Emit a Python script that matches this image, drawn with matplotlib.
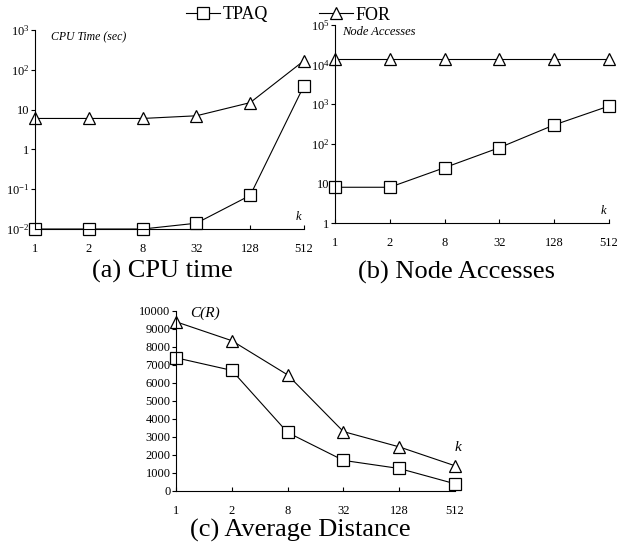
import matplotlib.pyplot as plt
from matplotlib.lines import Line2D

plt.rcParams['font.family'] = ['Liberation Serif', 'DejaVu Serif']
plt.rcParams['mathtext.fontset'] = 'stix'

k_labels = ['1', '2', '8', '32', '128', '512']

cpu_tpaq = [0.01, 0.01, 0.01, 0.014, 0.07, 40]
cpu_for = [6, 6, 6, 7, 15, 170]

node_tpaq = [8, 8, 25, 80, 300, 900]
node_for = [14000, 14000, 14000, 14000, 14000, 14000]

dist_tpaq = [7400, 6700, 3250, 1700, 1250, 400]
dist_for = [9400, 8350, 6450, 3300, 2450, 1400]

cpu_ticks = [1e-2, 1e-1, 1, 10, 1e2, 1e3]
cpu_ticklabels = [r'$\mathregular{10^{-2}}$', r'$\mathregular{10^{-1}}$', '1', '10',
                  r'$\mathregular{10^{2}}$', r'$\mathregular{10^{3}}$']
node_ticks = [1, 10, 1e2, 1e3, 1e4, 1e5]
node_ticklabels = ['1', '10', r'$\mathregular{10^{2}}$', r'$\mathregular{10^{3}}$',
                   r'$\mathregular{10^{4}}$', r'$\mathregular{10^{5}}$']
dist_ticks = list(range(0, 10001, 1000))

fig = plt.figure(figsize=(6.29, 5.5), dpi=100)
ax_a = fig.add_axes([0.0556, 0.5836, 0.4277, 0.3618])
ax_b = fig.add_axes([0.5326, 0.5945, 0.4356, 0.36])
ax_c = fig.add_axes([0.2798, 0.1073, 0.4436, 0.3273])

x = range(len(k_labels))
style = dict(color='black', lw=0.8, markersize=8, markerfacecolor='white',
             markeredgecolor='black', markeredgewidth=0.9, clip_on=False)

for ax, tpaq, fr in [(ax_a, cpu_tpaq, cpu_for), (ax_b, node_tpaq, node_for),
                     (ax_c, dist_tpaq, dist_for)]:
    ax.plot(x, tpaq, marker='s', **style)
    ax.plot(x, fr, marker='^', **style)
    ax.set_xlim(0, len(k_labels) - 1)
    ax.set_xticks(list(x))
    ax.set_xticklabels(k_labels)
    for s in ['top', 'right']:
        ax.spines[s].set_visible(False)
    for s in ['left', 'bottom']:
        ax.spines[s].set_linewidth(0.8)
    ax.tick_params(axis='x', direction='in', length=3, pad=10, labelsize=9, width=0.8)
    ax.tick_params(axis='y', direction='out', length=3, pad=1, labelsize=9, width=0.8)
    ax.minorticks_off()

ax_a.set_yscale('log')
ax_a.set_ylim(1e-2, 1e3)
ax_a.set_yticks(cpu_ticks)
ax_a.set_yticklabels(cpu_ticklabels)
ax_a.minorticks_off()
ax_a.text(0.06, 0.965, 'CPU Time (sec)', transform=ax_a.transAxes, style='italic',
          fontsize=8.5, va='center', ha='left')
ax_a.text(0.98, 0.06, 'k', transform=ax_a.transAxes, style='italic', fontsize=9,
          va='center', ha='center')

ax_b.set_yscale('log')
ax_b.set_ylim(1, 1e5)
ax_b.set_yticks(node_ticks)
ax_b.set_yticklabels(node_ticklabels)
ax_b.minorticks_off()
ax_b.text(0.025, 0.965, 'Node Accesses', transform=ax_b.transAxes, style='italic',
          fontsize=9, va='center', ha='left')
ax_b.text(0.98, 0.06, 'k', transform=ax_b.transAxes, style='italic', fontsize=9,
          va='center', ha='center')

ax_c.set_ylim(0, 10000)
ax_c.set_yticks(dist_ticks)
ax_c.text(0.05, 0.99, 'C(R)', transform=ax_c.transAxes, style='italic',
          fontsize=11, va='center', ha='left')
ax_c.text(1.01, 0.24, 'k', transform=ax_c.transAxes, style='italic', fontsize=11,
          va='center', ha='center')

fig.text(162 / 629, 1 - 271 / 550, '(a) CPU time', fontsize=19, ha='center', va='center')
fig.text(456 / 629, 1 - 272 / 550, '(b) Node Accesses', fontsize=19, ha='center', va='center')
fig.text(300 / 629, 1 - 530 / 550, '(c) Average Distance', fontsize=19, ha='center', va='center')

handles = [Line2D([], [], marker='s', **style), Line2D([], [], marker='^', **style)]
fig.legend(handles, ['TPAQ', 'FOR'], loc='center', bbox_to_anchor=(0.458, 1 - 15 / 550),
           ncol=2, frameon=False, fontsize=13, handlelength=1.9, handletextpad=0.15,
           columnspacing=2.8, borderpad=0, borderaxespad=0)

fig.savefig('out.png', dpi=100)
